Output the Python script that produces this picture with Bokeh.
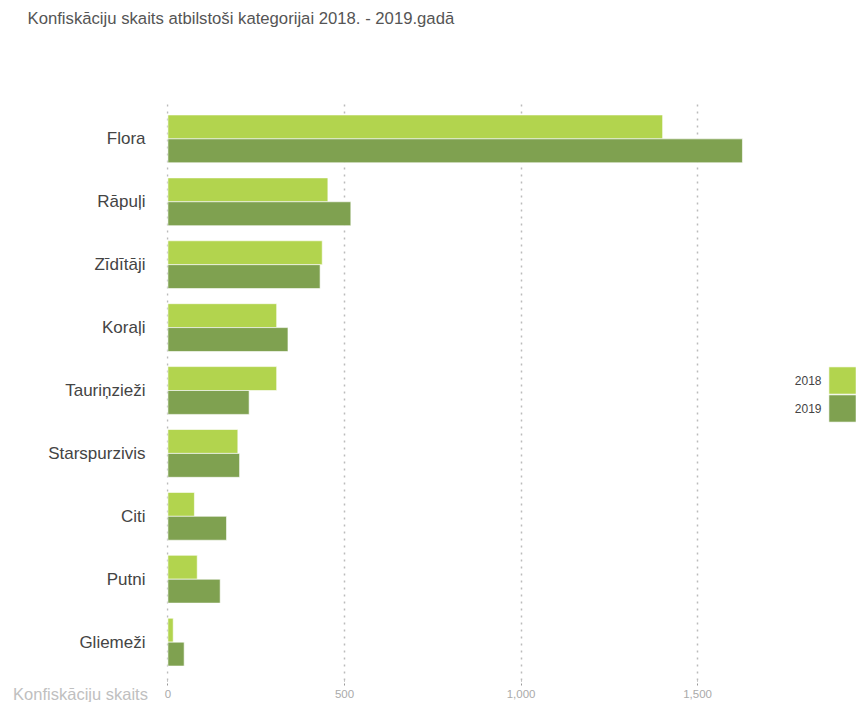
from bokeh.plotting import figure
from bokeh.models import (ColumnDataSource, FactorRange, Legend, LegendItem, Label,
                          FixedTicker, NumeralTickFormatter)
from bokeh.transform import dodge
from bokeh.embed import file_html
from bokeh.resources import INLINE

# ---- data ----
categories = ["Flora", "Rāpuļi", "Zīdītāji", "Koraļi", "Tauriņzieži",
              "Starspurzivis", "Citi", "Putni", "Gliemeži"]
values_2018 = [1401, 453, 437, 308, 308, 198, 75, 83, 15]
values_2019 = [1627, 518, 431, 340, 230, 203, 166, 148, 46]
years = ["2018", "2019"]
x_ticks = [0, 500, 1000, 1500]
title_text = "Konfiskāciju skaits atbilstoši kategorijai 2018. - 2019.gadā"
x_axis_title = "Konfiskāciju skaits"

colors = ["#b2d44e", "#7fa150"]

src = ColumnDataSource(data=dict(cat=categories, v2018=values_2018, v2019=values_2019))

p = figure(width=856, height=702, output_backend="svg", toolbar_location=None,
           y_range=FactorRange(factors=categories[::-1], range_padding=0.11,
                               range_padding_units="absolute"),
           x_range=(-4, 1950),
           min_border_left=166, min_border_right=0, min_border_top=100,
           min_border_bottom=22)

p.outline_line_color = None
p.background_fill_color = "white"
p.border_fill_color = "white"

r1 = p.hbar(y=dodge("cat", 0.19, range=p.y_range), right="v2018", left=0, height=0.38,
            source=src, fill_color=colors[0], line_color="white", line_alpha=0.6)
r2 = p.hbar(y=dodge("cat", -0.19, range=p.y_range), right="v2019", left=0, height=0.38,
            source=src, fill_color=colors[1], line_color="white", line_alpha=0.6)

# grid
p.ygrid.grid_line_color = None
p.xgrid.grid_line_color = "#bbbbbb"
p.xgrid.grid_line_dash = "2 5"
p.xgrid.grid_line_width = 1.5

# x axis
p.xaxis.ticker = FixedTicker(ticks=x_ticks)
p.xaxis.formatter = NumeralTickFormatter(format="0,0")
p.xaxis.axis_line_color = None
p.xaxis.major_tick_line_color = "#999999"
p.xaxis.major_tick_line_dash = "2 2"
p.xaxis.major_tick_in = 0
p.xaxis.major_tick_out = 5
p.xaxis.minor_tick_line_color = None
p.xaxis.major_label_text_font = "Liberation Sans"
p.xaxis.major_label_text_font_size = "11.5px"
p.xaxis.major_label_text_color = "#aaaaaa"
p.xaxis.major_label_standoff = 4

# y axis
p.yaxis.axis_line_color = None
p.yaxis.major_tick_line_color = None
p.yaxis.major_tick_out = 0
p.yaxis.major_tick_in = 0
p.yaxis.minor_tick_line_color = None
p.yaxis.major_label_text_font = "Liberation Sans"
p.yaxis.major_label_text_font_size = "17px"
p.yaxis.major_label_text_color = "#444444"
p.yaxis.major_label_standoff = 21

# title (placed in the side panel so it is not clipped to the frame)
p.add_layout(Label(x=27 - 166, y=10.41, x_units="screen", y_units="data",
                   text=title_text, text_font="Liberation Sans", text_font_size="16.7px",
                   text_color="#555555", text_baseline="middle", text_align="left"),
             "above")

# x axis title at bottom left
p.add_layout(Label(x=0, y=-0.33, x_units="data", y_units="data", x_offset=-20,
                   text=x_axis_title, text_font="Liberation Sans",
                   text_font_size="16.5px", text_color="#c0c0c0",
                   text_baseline="middle", text_align="right"),
             "above")

# legend squares (one legend per year; the year labels are drawn to the left of them)
for i, (r, yr) in enumerate(zip([r1, r2], years)):
    lg = Legend(items=[LegendItem(label=" ", renderers=[r])],
                location=(659, 283 - 28 * i), glyph_width=34, glyph_height=34,
                spacing=0, padding=0, margin=0, border_line_color=None,
                background_fill_alpha=0, label_text_alpha=0,
                label_text_font_size="1px", label_standoff=0, label_width=0)
    p.add_layout(lg)
    p.add_layout(Label(x=655, y=300 - 28 * i, x_units="screen", y_units="screen",
                       text=yr, text_font="Liberation Sans", text_font_size="12px",
                       text_color="#444444", text_baseline="middle", text_align="right"))

open("out.html", "w").write(file_html(p, INLINE))
